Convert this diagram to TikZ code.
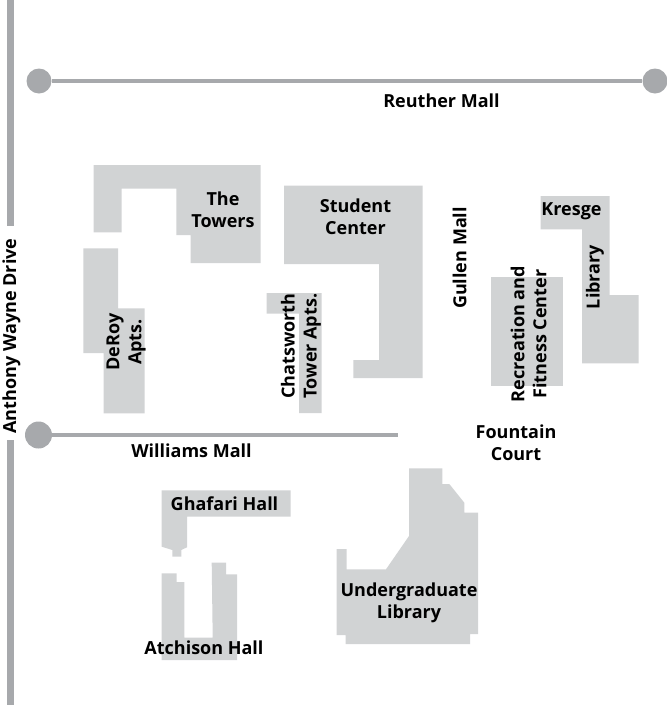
\documentclass[tikz,border=0pt]{standalone}
\usepackage{fontspec}
\setmainfont{Open Sans}
\definecolor{bldg}{HTML}{D1D3D4}
\definecolor{road}{HTML}{A7A9AC}
\begin{document}
\begin{tikzpicture}[x=1pt,y=-1pt,
  bldg/.style={fill=bldg,draw=none},
  roadline/.style={draw=road,line width=3.6pt},
  avenue/.style={draw=road,line width=7pt},
  dot/.style={circle,fill=road,draw=none,inner sep=0pt,minimum size=25pt},
  lbl/.style={font=\fontsize{18}{22}\selectfont\bfseries,align=center,inner sep=0pt,text=black},
  vlbl/.style={lbl,rotate=90}]
\useasboundingbox (0,0) rectangle (667,705);
% avenue
\coordinate (a1) at (10,0); \coordinate (a2) at (10,226);
\coordinate (a3) at (10,440); \coordinate (a4) at (10,705);
\draw[avenue] (a1) -- (a2);
\draw[avenue] (a3) -- (a4);
% malls
\node[dot] (r1) at (39,81) {};
\node[dot] (r2) at (655,81) {};
\draw[roadline] (r1) -- (r2);
\node[dot,minimum size=27pt] (w1) at (38.5,435) {};
\coordinate (w2) at (398,435);
\draw[roadline] (w1) -- (w2);
% buildings
\fill[bldg] (93.7,165) -- (260.7,165) -- (260.7,263) -- (190.7,263) -- (190.7,235) -- (176.3,235) -- (176.3,188.7) -- (121.7,188.7) -- (121.7,232.3) -- (93.7,232.3) -- cycle;
\fill[bldg] (83.3,248.3) -- (118,248.3) -- (118,308.3) -- (144.7,308.3) -- (144.7,413.3) -- (103.7,413.3) -- (103.7,353) -- (83.3,353) -- cycle;
\fill[bldg] (284,185.7) -- (422.7,185.7) -- (422.7,378) -- (353.3,378) -- (353.3,360) -- (379,360) -- (379,264) -- (284,264) -- cycle;
\fill[bldg] (266.7,293) -- (321.7,293) -- (321.7,413) -- (299,413) -- (299,313.7) -- (266.7,313.7) -- cycle;
\fill[bldg] (540.7,196) -- (609.7,196) -- (609.7,295) -- (638.7,295) -- (638.7,363.3) -- (582,363.3) -- (582,229.3) -- (540.7,229.3) -- cycle;
\fill[bldg] (491,276.7) rectangle (563,385.7);
\fill[bldg] (161.7,490.3) -- (290.7,490.3) -- (290.7,516.7) -- (187,516.7) -- (187,547.3) -- (181.3,550) -- (181.3,556.7) -- (172.3,556.7) -- (172.3,550) -- (161.7,546.7) -- cycle;
\fill[bldg] (161.7,573.3) -- (176.7,573.3) -- (176.7,582) -- (184.3,582) -- (184.3,637.7) -- (212.7,637.7) -- (211.7,562.7) -- (226,562.7) -- (226,574.3) -- (237,574.3) -- (237,660) -- (161.7,660) -- cycle;
\fill[bldg] (409,468.3) -- (442.3,468.3) -- (442.3,484) -- (449.3,484) -- (464.3,502.7) -- (464.3,512.7) -- (478,512.7) -- (478,634) -- (470,634) -- (470,644) -- (345.7,644) -- (345.7,635) -- (336.7,635) -- (336.7,549) -- (346.7,549) -- (346.7,569.3) -- (386,569.3) -- (409,536) -- cycle;
% labels
\node[vlbl] (lAWD) at (11.5,336) {Anthony Wayne Drive};
\node[lbl] (lRM) at (441.5,100.5) {Reuther Mall};
\node[lbl] (lTT) at (223,210) {The\\Towers};
\node[lbl] (lSC) at (355.5,216.5) {Student\\Center};
\node[vlbl] (lGM) at (459.5,258) {Gullen Mall};
\node[lbl] (lK) at (571.5,211.5) {Kresge};
\node[vlbl] (lL) at (595,277) {Library};
\node[vlbl] (lRF) at (528.5,334) {Recreation and\\Fitness Center};
\node[vlbl] (lDA) at (126,342) {DeRoy\\Apts.};
\node[vlbl] (lCT) at (301,346) {Chatsworth\\Tower Apts.};
\node[lbl] (lFC) at (516,442.5) {Fountain\\Court};
\node[lbl] (lWM) at (191.5,450.5) {Williams Mall};
\node[lbl] (lGH) at (224.5,503.5) {Ghafari Hall};
\node[lbl] (lAH) at (204,647.5) {Atchison Hall};
\node[lbl] (lUL) at (409,603) {Undergraduate\\Library};
\end{tikzpicture}
\end{document}
